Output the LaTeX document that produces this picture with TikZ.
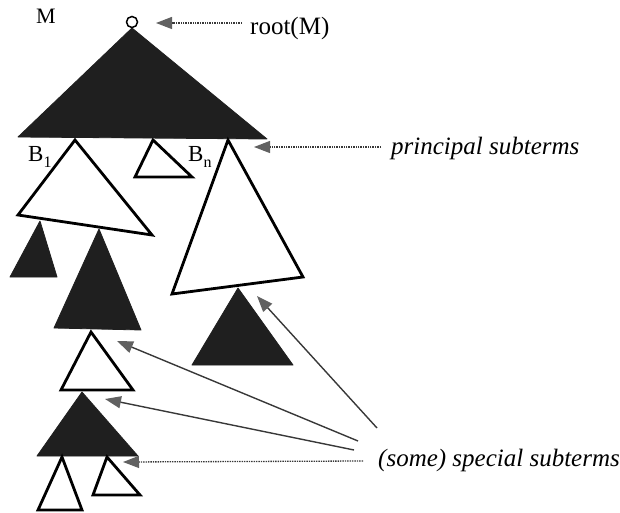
\documentclass[tikz,border=0pt]{standalone}
\usepackage{fontspec}
\setmainfont{Liberation Serif}
\usetikzlibrary{arrows.meta}
\begin{document}
\begin{tikzpicture}[x=1pt,y=-1pt,
  blk/.style={fill=black!88, draw=black!88, line width=0.8pt, line join=round},
  wht/.style={fill=white, draw=black, line width=2.8pt, line join=miter},
  ptr/.style={-{Triangle[length=16pt,width=12pt,color=black!62,fill=black!62]}, draw=black!78, line width=1.4pt},
  dptr/.style={ptr, densely dotted, line width=1.3pt},
  lbl/.style={font=\fontsize{25}{28}\selectfont, inner sep=0pt, anchor=base west},
  ilbl/.style={lbl, font=\fontsize{25}{28}\selectfont\itshape}]
\useasboundingbox (0,0) rectangle (620,513);

% main black triangle and root
\draw[blk] (132,28) -- (18,137) -- (267,139) -- cycle;
\node[circle, draw=black, fill=white, line width=1.5pt, minimum size=11pt, inner sep=0pt] (root) at (132,22) {};
\node[lbl, anchor=base, font=\fontsize{22}{24}\selectfont] (M) at (46,24) {M};

% principal subterms
\draw[wht] (75,140) -- (18,215) -- (152,235) -- cycle;
\draw[wht] (153,140) -- (135,177) -- (192,177) -- cycle;
\draw[wht] (228,140) -- (172,294) -- (303,277) -- cycle;
\node[lbl, font=\fontsize{23}{26}\selectfont] (B1) at (28,161) {B\raisebox{-6pt}{\fontsize{16}{18}\selectfont 1}};
\node[lbl, font=\fontsize{23}{26}\selectfont] (Bn) at (188,161) {B\raisebox{-6pt}{\fontsize{16}{18}\selectfont n}};

% below B1
\draw[blk] (40,221) -- (10,277) -- (57,277) -- cycle;
\draw[blk] (99,229) -- (54,328) -- (141,330) -- cycle;
\draw[wht] (91,332) -- (61,390) -- (133,390) -- cycle;
\draw[blk] (82,392) -- (37,456) -- (138,456) -- cycle;
\draw[wht] (62,457) -- (38,510) -- (82,510) -- cycle;
\draw[wht] (107,457) -- (93,495) -- (140,495) -- cycle;

% below Bn
\draw[blk] (238,288) -- (192,365) -- (293,365) -- cycle;

% labels
\node[lbl] (rootlbl) at (250,35) {root(M)};
\node[ilbl] (plbl) at (391,155) {principal subterms};
\node[ilbl] (slbl) at (378,466) {(some) special subterms};

% arrow targets and sources
\coordinate (rootT) at (156,23);
\coordinate (rootS) at (242,23);
\coordinate (pT) at (254,147);
\coordinate (pS) at (381,147);
\coordinate (s1T) at (257,296);
\coordinate (s1S) at (377,428);
\coordinate (s2T) at (117,341);
\coordinate (s2S) at (358,441);
\coordinate (s3T) at (105,399);
\coordinate (s3S) at (354,450);
\coordinate (s4T) at (123,462);
\coordinate (s4S) at (363,461);

\draw[dptr] (rootS) -- (rootT);
\draw[dptr] (pS) -- (pT);
\draw[ptr] (s1S) -- (s1T);
\draw[ptr] (s2S) -- (s2T);
\draw[ptr] (s3S) -- (s3T);
\draw[dptr] (s4S) -- (s4T);
\end{tikzpicture}
\end{document}
